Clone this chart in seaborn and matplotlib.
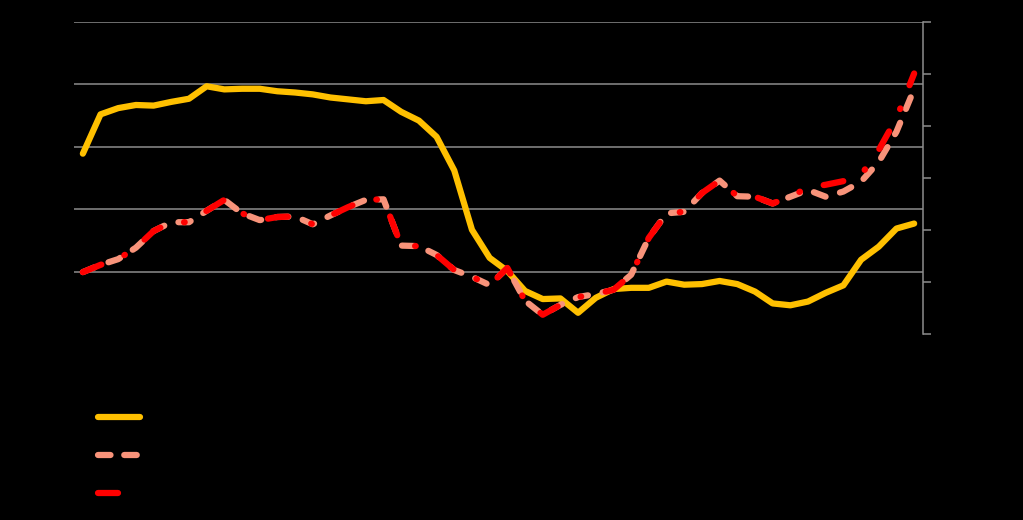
import pandas as pd
import matplotlib
matplotlib.use('Agg')
import matplotlib.pyplot as plt
import seaborn as sns
from matplotlib.lines import Line2D


# Series values (48 periods)
periods = list(range(48))

# left axis series (solid gold line)
gold_values = [28.9, 35.2, 36.2, 36.7, 36.6, 37.2, 37.7, 39.7, 39.2, 39.3,
               39.3, 38.9, 38.7, 38.4, 37.9, 37.6, 37.3, 37.5, 35.6, 34.2,
               31.6, 26.2, 16.7, 12.2, 10.1, 6.9, 5.6, 5.7, 3.4, 5.8,
               7.2, 7.4, 7.4, 8.4, 7.9, 8.0, 8.5, 8.0, 6.8, 4.9,
               4.6, 5.2, 6.6, 7.8, 11.9, 14.0, 16.9, 17.7]

# right axis series (dashed salmon and dash-dot red lines)
salmon_values = [1.19, 1.33, 1.44, 1.66, 1.98, 2.15, 2.15, 2.37, 2.58, 2.32,
                 2.19, 2.25, 2.26, 2.11, 2.28, 2.44, 2.58, 2.59, 1.70, 1.69,
                 1.52, 1.23, 1.10, 0.94, 1.27, 0.64, 0.37, 0.56, 0.71, 0.77,
                 0.85, 1.14, 1.85, 2.32, 2.35, 2.71, 2.95, 2.65, 2.64, 2.51,
                 2.64, 2.77, 2.64, 2.74, 2.93, 3.31, 3.89, 4.71]
red_values = [1.19, 1.33, 1.44, 1.66, 1.98, 2.15, 2.15, 2.37, 2.58, 2.32,
              2.19, 2.25, 2.26, 2.11, 2.28, 2.44, 2.58, 2.59, 1.70, 1.69,
              1.52, 1.23, 1.10, 0.94, 1.27, 0.64, 0.37, 0.56, 0.71, 0.77,
              0.85, 1.14, 1.85, 2.32, 2.35, 2.71, 2.95, 2.65, 2.64, 2.51,
              2.64, 2.82, 2.87, 2.94, 3.06, 3.54, 4.15, 5.01]

series_labels = ['Series 1', 'Series 2', 'Series 3']
left_ticks = [0, 10, 20, 30, 40, 50]
right_ticks = [0, 1, 2, 3, 4, 5, 6]

GOLD = '#FFC000'
SALMON = '#F8937A'
RED = '#FF0000'
GRID = '#8C8C8C'

SALMON_DASH = (0, (2.0, 2.4))
RED_DASH = (0, (3.2, 4.0, 0.1, 4.0))


def build_frame():
    """Put the series into one table for seaborn."""
    df = pd.DataFrame({
        'period': periods,
        'gold': gold_values,
        'salmon': salmon_values,
        'red': red_values,
    })
    return df


def main():
    df = build_frame()

    sns.set_style('dark', rc={'axes.facecolor': 'black',
                              'figure.facecolor': 'black'})

    fig = plt.figure(figsize=(10.23, 5.2), dpi=100)
    fig.patch.set_facecolor('black')
    ax = fig.add_axes([74 / 1023, 1 - 334 / 520, 849 / 1023, 312 / 520])
    ax.set_facecolor('black')

    # Gold line on the primary axis
    sns.lineplot(data=df, x='period', y='gold', ax=ax, color=GOLD,
                 linewidth=4.5, solid_capstyle='round', solid_joinstyle='round')

    ax.set_xlim(-0.5, 47.5)
    ax.set_ylim(0, 50)
    ax.set_yticks(left_ticks)
    ax.set_xticks([])
    ax.set_xlabel('')
    ax.set_ylabel('')
    ax.tick_params(axis='y', colors='black', length=0, labelcolor='black')
    ax.grid(axis='y', color=GRID, linewidth=1.1)
    ax.grid(axis='x', visible=False)
    ax.yaxis.get_gridlines()[0].set_visible(False)
    for side in ['left', 'bottom', 'top', 'right']:
        ax.spines[side].set_visible(False)

    # Dashed lines on the secondary axis
    ax2 = ax.twinx()
    sns.lineplot(data=df, x='period', y='salmon', ax=ax2, color=SALMON,
                 linewidth=4.5, linestyle=SALMON_DASH,
                 dash_capstyle='round', dash_joinstyle='round')
    sns.lineplot(data=df, x='period', y='red', ax=ax2, color=RED,
                 linewidth=4.5, linestyle=RED_DASH,
                 dash_capstyle='round', dash_joinstyle='round')
    ax2.set_xlim(-0.5, 47.5)
    ax2.set_ylim(0, 6)
    ax2.set_yticks(right_ticks)
    ax2.set_ylabel('')
    ax2.grid(False)
    ax2.tick_params(axis='y', colors=GRID, labelcolor='black', length=6,
                    width=1.1, direction='out')
    for side in ['left', 'bottom', 'top']:
        ax2.spines[side].set_visible(False)
    ax2.spines['right'].set_visible(True)
    ax2.spines['right'].set_color(GRID)
    ax2.spines['right'].set_linewidth(1.1)

    # Legend in the lower left, labels in black like the rest of the text
    handles = [
        Line2D([], [], color=GOLD, linewidth=4.5, solid_capstyle='round'),
        Line2D([], [], color=SALMON, linewidth=4.5, linestyle=(0, (2.0, 2.2)),
               dash_capstyle='round'),
        Line2D([], [], color=RED, linewidth=4.5, linestyle=(0, (3.2, 10.0)),
               dash_capstyle='round'),
    ]
    leg = fig.legend(handles, series_labels, loc='upper left',
                     bbox_to_anchor=(98 / 1023, 1 - 411 / 520),
                     frameon=False, fontsize=10, handlelength=3.0,
                     labelspacing=1.72, borderpad=0, borderaxespad=0)
    for txt in leg.get_texts():
        txt.set_color('black')

    fig.savefig('out.png', dpi=100, facecolor='black')
    plt.close(fig)


if __name__ == '__main__':
    main()
